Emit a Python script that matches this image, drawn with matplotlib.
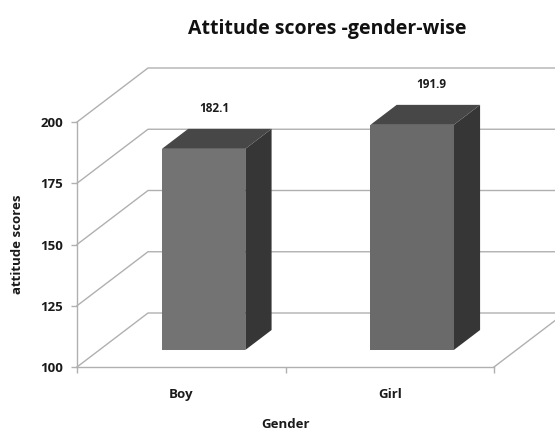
import matplotlib as mpl
import matplotlib.pyplot as plt
from matplotlib.patches import Polygon

genders = ["Boy", "Girl"]
scores = [182.1, 191.9]
y_ticks = [100, 125, 150, 175, 200]

GRID = "#b0b0b0"
FRONT = ["#737373", "#6a6a6a"]
TOP = "#474747"
SIDE = "#363636"
TEXT = "#1a1a1a"

# full depth of the fake 3d box, in data units
DEPTH_X = 71 / 208.5
DEPTH_Y = 54 / 2.45
BAR_W = 0.4
D0, D1 = 0.315, 0.685

mpl.rcParams["font.family"] = ["Open Sans", "DejaVu Sans"]
mpl.rcParams["font.weight"] = "bold"


def project(x, v, d):
    """Shift a point back by depth d (0 = front, 1 = back)"""
    return x + d * DEPTH_X, v + d * DEPTH_Y


def draw_bar(ax, center, value, color):
    x0, x1 = center - BAR_W / 2, center + BAR_W / 2
    front = [project(x0, 100, D0), project(x1, 100, D0),
             project(x1, value, D0), project(x0, value, D0)]
    top = [project(x0, value, D0), project(x1, value, D0),
           project(x1, value, D1), project(x0, value, D1)]
    side = [project(x1, 100, D0), project(x1, 100, D1),
            project(x1, value, D1), project(x1, value, D0)]
    for pts, c in ((side, SIDE), (top, TOP), (front, color)):
        ax.add_patch(Polygon(pts, closed=True, facecolor=c, edgecolor="none",
                             clip_on=False, zorder=3))


fig = plt.figure(figsize=(5.55, 4.32), dpi=100)
ax = fig.add_axes([77 / 555, (432 - 367) / 432, 417 / 555, 245 / 432])
ax.set_xlim(0, 2)
ax.set_ylim(100, 200)

# walls: diagonal on the left side, then the line along the back
for v in y_ticks:
    bx, by = project(0, v, 1)
    ex, ey = project(2, v, 1)
    ax.plot([0, bx, ex], [v, by, ey], color=GRID, lw=1.0, clip_on=False, zorder=1)

# floor edge on the right
fx, fy = project(2, 100, 1)
ax.plot([2, fx], [100, fy], color=GRID, lw=1.0, clip_on=False, zorder=1)

centers = [i + 0.5 for i in range(len(genders))]
label_dx = [0.157, 0.2]
for c, s, col, dx in zip(centers, scores, FRONT, label_dx):
    draw_bar(ax, c, s, col)
    ax.text(c + dx, s + 23.6, f"{s:.1f}", ha="center", va="center",
            fontsize=8.5, color=TEXT, clip_on=False)

for name in ("top", "right"):
    ax.spines[name].set_visible(False)
for name in ("left", "bottom"):
    ax.spines[name].set_color(GRID)
    ax.spines[name].set_linewidth(1.0)

ax.set_yticks(y_ticks)
ax.set_xticks([0, 1, 2])
ax.set_xticklabels([])
ax.tick_params(axis="both", length=4, width=1.0, color=GRID, labelcolor=TEXT, pad=6)
ax.tick_params(axis="y", labelsize=9.5)
for c, name in zip(centers, genders):
    ax.annotate(name, (c, 100), xytext=(0, -19.5), textcoords="offset points",
                ha="center", va="center", fontsize=9.5, color=TEXT)

fig.text(285 / 555, 1 - 425 / 432, "Gender", ha="center", va="center",
         fontsize=9.5, color=TEXT)
fig.text(18 / 555, 1 - 244 / 432, "attitude scores", rotation=90, ha="center",
         va="center", fontsize=9.5, color=TEXT)
fig.text(327 / 555, 1 - 29 / 432, "Attitude scores -gender-wise", ha="center",
         va="center", fontsize=14, color="#111111")

fig.savefig("out.png", dpi=100)
